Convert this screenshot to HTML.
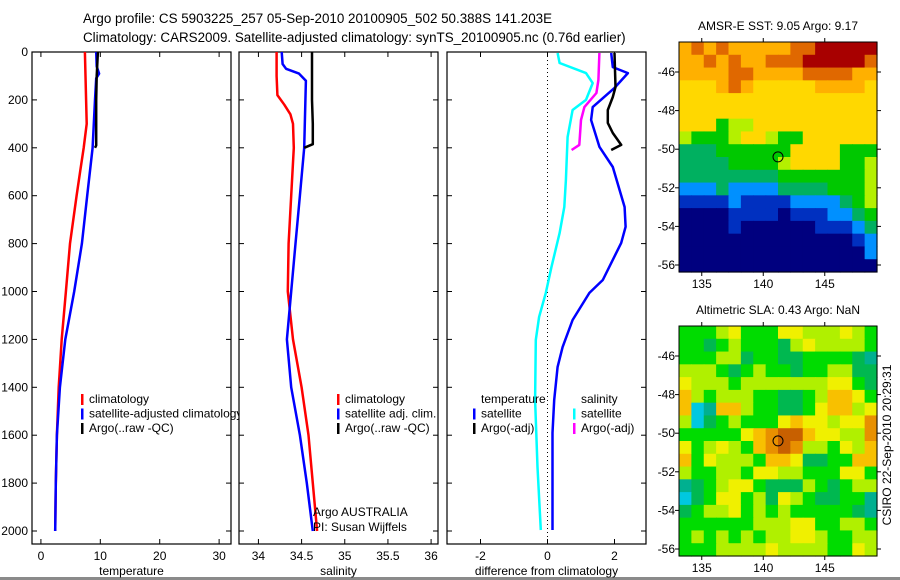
<!DOCTYPE html>
<html><head><meta charset="utf-8"><style>
html,body{margin:0;padding:0;background:#fff;}
svg{display:block;font-family:"Liberation Sans",sans-serif;}
</style></head><body>
<svg id="c" width="900" height="580" viewBox="0 0 900 580" xmlns="http://www.w3.org/2000/svg">
<defs><clipPath id="clipT"><rect x="0" y="0" width="239" height="580"/></clipPath></defs>
<text x="83" y="23" font-size="13.4">Argo profile: CS 5903225_257 05-Sep-2010 20100905_502 50.388S 141.203E</text>
<text x="83" y="42" font-size="13.4">Climatology: CARS2009. Satellite-adjusted climatology: synTS_20100905.nc (0.76d earlier)</text>
<text transform="translate(891,445) rotate(-90)" text-anchor="middle" font-size="12">CSIRO 22-Sep-2010 20:29:31</text>
<rect x="0" y="577" width="900" height="3" fill="#8a8a8a"/>
<g id="g"></g>
</svg>
<script>
// ---- depth axis ----
const depthTicks=[0,200,400,600,800,1000,1200,1400,1600,1800,2000];
// ---- temperature panel ----
const tTicks=[0,10,20,30];
const tClimD=[0,100,200,300,400,500,600,800,1000,1200,1400,1600,1800,2000];
const tClimV=[7.4,7.5,7.6,7.7,7.2,6.6,6.0,4.9,4.2,3.5,3.0,2.7,2.5,2.4];
const tSatD=[0,60,90,110,200,400,600,800,1000,1200,1400,1600,1800,2000];
const tSatV=[9.3,9.4,9.8,9.3,9.1,8.7,7.8,6.9,5.6,4.1,3.2,2.7,2.5,2.4];
const tArgoD=[0,100,200,300,390,400];
const tArgoV=[9.6,9.4,9.3,9.3,9.3,9.1];
// ---- salinity panel ----
const sTicks=[34,34.5,35,35.5,36];
const sTickLabels=["34","34.5","35","35.5","36"];
const sClimD=[0,100,180,220,260,300,400,600,800,1000,1200,1400,1600,1800,2000];
const sClimV=[34.21,34.21,34.22,34.3,34.37,34.4,34.41,34.38,34.35,34.34,34.4,34.5,34.58,34.63,34.68];
const sSatD=[0,50,70,90,120,400,600,800,1000,1200,1400,1600,1800,2000];
const sSatV=[34.27,34.28,34.32,34.47,34.55,34.53,34.48,34.43,34.38,34.33,34.38,34.48,34.56,34.63];
const sArgoD=[0,100,200,300,385,400];
const sArgoV=[34.62,34.62,34.62,34.63,34.63,34.53];
// ---- difference panel ----
const dTicks=[-2,0,2];
const dTSatD=[4,63,88,150,230,284,396,480,647,730,797,952,1006,1119,1232,1315,1453,1590,1996];
const dTSatV=[1.9,1.95,2.4,2.0,1.35,1.3,1.55,1.95,2.3,2.33,2.2,1.65,1.25,0.75,0.45,0.3,0.2,0.15,0.15];
const dSSatD=[4,46,88,130,200,242,355,534,647,756,897,1006,1106,1202,1453,1733,1996];
const dSSatV=[0.3,0.36,1.15,1.35,1.15,0.75,0.6,0.55,0.5,0.36,0.12,-0.05,-0.25,-0.35,-0.37,-0.3,-0.2];
const dSArgoD=[4,117,171,230,284,388,409];
const dSArgoV=[1.55,1.52,1.46,1.1,1.0,0.95,0.72];
const dTArgoD=[4,146,188,242,296,338,388,409];
const dTArgoV=[2.0,2.03,1.95,1.8,1.8,1.95,2.2,1.9];
// ---- maps ----
const lonTicks=[135,140,145];
const latTicks=[-46,-48,-50,-52,-54,-56];
const argoLon=141.2, argoLat=-50.4;
const sstGrid=["7878777778899999","7787877888999998","7777887777888877","6667876666677776","6666666666666666","6666666666666666","6664556666666666","5444566544666666","3334444446666444","3333444456666445","3333333344444445","2223222233334445","1111211112222345","0000111101112234","0000100000011123","0000000000000012","0000000000000002","0000000000000000"];
const slaGrid=["3334533355444543","3323433324544443","3334423322333321","4443234332334422","5444344444445532","6434443322346653","6016643322356645","4023433356554557","3333356788655447","5345436787443546","6354443665223366","4334435544333553","1234553222432344","0235534254322331","2344534343333321","3333334445533443","3434343445543344","3334444544443354"];

const NS="http://www.w3.org/2000/svg";
const G=document.getElementById('g');
function mk(tag,attrs,parent){const e=document.createElementNS(NS,tag);for(const k in attrs)e.setAttribute(k,attrs[k]);(parent||G).appendChild(e);return e;}
function yD(d){return 52+d*0.2395;}
const panels=[
 {x0:32,x1:231,vmin:-1.5,vmax:32,ticks:tTicks,labels:tTicks.map(String),title:"temperature",name:"temperature-panel",ylab:true},
 {x0:239,x1:438,vmin:33.775,vmax:36.08,ticks:sTicks,labels:sTickLabels,title:"salinity",name:"salinity-panel"},
 {x0:447,x1:646,vmin:-3.0,vmax:2.94,ticks:dTicks,labels:dTicks.map(String),title:"difference from climatology",name:"difference-panel"}
];
panels.forEach(p=>{p.sx=v=>p.x0+(v-p.vmin)/(p.vmax-p.vmin)*(p.x1-p.x0);});
panels.forEach(p=>{
 const g=mk('g',{});
 
 
 const r=mk('rect',{x:p.x0,y:52,width:p.x1-p.x0,height:492,fill:'none',stroke:'#000','stroke-width':1.2},g);
 
 
 depthTicks.forEach(d=>{
  const y=yD(d);
  mk('line',{x1:p.x0,x2:p.x0+5,y1:y,y2:y,stroke:'#000'},g);
  mk('line',{x1:p.x1,x2:p.x1-5,y1:y,y2:y,stroke:'#000'},g);
  if(p.ylab){const t=mk('text',{x:p.x0-4,y:y+4,'text-anchor':'end','font-size':12},g);t.textContent=d;
   
   }
 });
 p.ticks.forEach((v,i)=>{
  const x=p.sx(v);
  mk('line',{x1:x,x2:x,y1:544,y2:539,stroke:'#000'},g);
  mk('line',{x1:x,x2:x,y1:52,y2:57,stroke:'#000'},g);
  const t=mk('text',{x:x,y:560,'text-anchor':'middle','font-size':12},g);t.textContent=p.labels[i];
  
  
 });
 const t=mk('text',{x:(p.x0+p.x1)/2,y:575,'text-anchor':'middle','font-size':12},g);t.textContent=p.title;
 
 
});
function line(p,D,V,color,name,w){
 const pts=D.map((d,i)=>p.sx(V[i]).toFixed(1)+','+yD(d).toFixed(1)).join(' ');
 const e=mk('polyline',{points:pts,fill:'none',stroke:color,'stroke-width':w||2.5,'stroke-linejoin':'round'});
 
 
}
{const x=panels[2].sx(0);const z=mk('line',{x1:x,x2:x,y1:52,y2:544,stroke:'#000','stroke-dasharray':'1,3'});

}
line(panels[0],tClimD,tClimV,'#f00','temp-climatology-line');
line(panels[0],tSatD,tSatV,'#00f','temp-satellite-line');
line(panels[0],tArgoD,tArgoV,'#000','temp-argo-line');
line(panels[1],sClimD,sClimV,'#f00','sal-climatology-line');
line(panels[1],sSatD,sSatV,'#00f','sal-satellite-line');
line(panels[1],sArgoD,sArgoV,'#000','sal-argo-line');
line(panels[2],dSSatD,dSSatV,'#0ff','diff-sal-satellite-line');
line(panels[2],dSArgoD,dSArgoV,'#f0f','diff-sal-argo-line');
line(panels[2],dTSatD,dTSatV,'#00f','diff-temp-satellite-line');
line(panels[2],dTArgoD,dTArgoV,'#000','diff-temp-argo-line');
function legend(x,y,items,name,clip){
 const g=mk('g',{});
 
 
 if(clip)g.setAttribute('clip-path','url(#clipT)');
 items.forEach((it,i)=>{
  const yy=y+i*14.5;
  if(it[1])mk('rect',{x:x,y:yy-9,width:2.5,height:11,fill:it[1]},g);
  const t=mk('text',{x:x+8,y:yy,'font-size':12},g);t.textContent=it[0];
  
  
 });
}
legend(81,403,[["climatology","#f00"],["satellite-adjusted climatology","#00f"],["Argo(..raw -QC)","#000"]],'temp-legend',true);
legend(337,403,[["climatology","#f00"],["satellite adj. clim.","#00f"],["Argo(..raw -QC)","#000"]],'sal-legend');
legend(473,403,[["temperature",null],["satellite","#00f"],["Argo(-adj)","#000"]],'diff-temp-legend');
legend(573,403,[["salinity",null],["satellite","#0ff"],["Argo(-adj)","#f0f"]],'diff-sal-legend');
{const a=mk('text',{x:313,y:516,'font-size':12});a.textContent="Argo AUSTRALIA";


const b=mk('text',{x:313,y:531,'font-size':12});b.textContent="PI: Susan Wijffels";

}
const sstColors=["#00007f","#0030c0","#0090ff","#00b060","#00c800","#b4f000","#ffd800","#ffb000","#e06800","#a80000"];
const slaColors=["#00c8e0","#00b090","#00b850","#00dc00","#b0f000","#f0f000","#f8c000","#e89000","#c86000"];
function map(top,grid,colors,title,name){
 const x0=679,x1=877,y0=top,y1=top+230;
 const g=mk('g',{});
 
 
 const rows=grid.length,cols=grid[0].length;
 const cw=(x1-x0)/cols,ch=(y1-y0)/rows;
 grid.forEach((row,r)=>{for(let c=0;c<cols;c++){
  const cell=mk('rect',{x:(x0+c*cw).toFixed(2),y:(y0+r*ch).toFixed(2),width:(cw+0.6).toFixed(2),height:(ch+0.6).toFixed(2),fill:colors[+row[c]]},g);
  
  
 }});
 const lonX=l=>x0+(l-133.15)*12.3;
 const latY=l=>top+30+(-46-l)*19.3;
 const box=mk('rect',{x:x0,y:y0,width:x1-x0,height:y1-y0,fill:'none',stroke:'#000'},g);
 
 
 lonTicks.forEach(l=>{const x=lonX(l);
  mk('line',{x1:x,x2:x,y1:y0-4,y2:y0,stroke:'#000'},g);
  mk('line',{x1:x,x2:x,y1:y1,y2:y1+4,stroke:'#000'},g);
  const t=mk('text',{x:x,y:y1+16,'text-anchor':'middle','font-size':12},g);t.textContent=l;
  
  });
 latTicks.forEach(l=>{const y=latY(l);
  mk('line',{x1:x0-4,x2:x0,y1:y,y2:y,stroke:'#000'},g);
  mk('line',{x1:x1,x2:x1+4,y1:y,y2:y,stroke:'#000'},g);
  const t=mk('text',{x:x0-4,y:y+4,'text-anchor':'end','font-size':12},g);t.textContent=l;
  
  });
 const c=mk('circle',{cx:lonX(argoLon),cy:latY(argoLat),r:5,fill:'none',stroke:'#000'},g);
 
 
 const t=mk('text',{x:(x0+x1)/2,y:top-12,'text-anchor':'middle','font-size':12},g);t.textContent=title;
 
 
}
map(42,sstGrid,sstColors,"AMSR-E SST: 9.05 Argo: 9.17",'sst-map');
map(326,slaGrid,slaColors,"Altimetric SLA: 0.43 Argo: NaN",'sla-map');
</script>
</body></html>
